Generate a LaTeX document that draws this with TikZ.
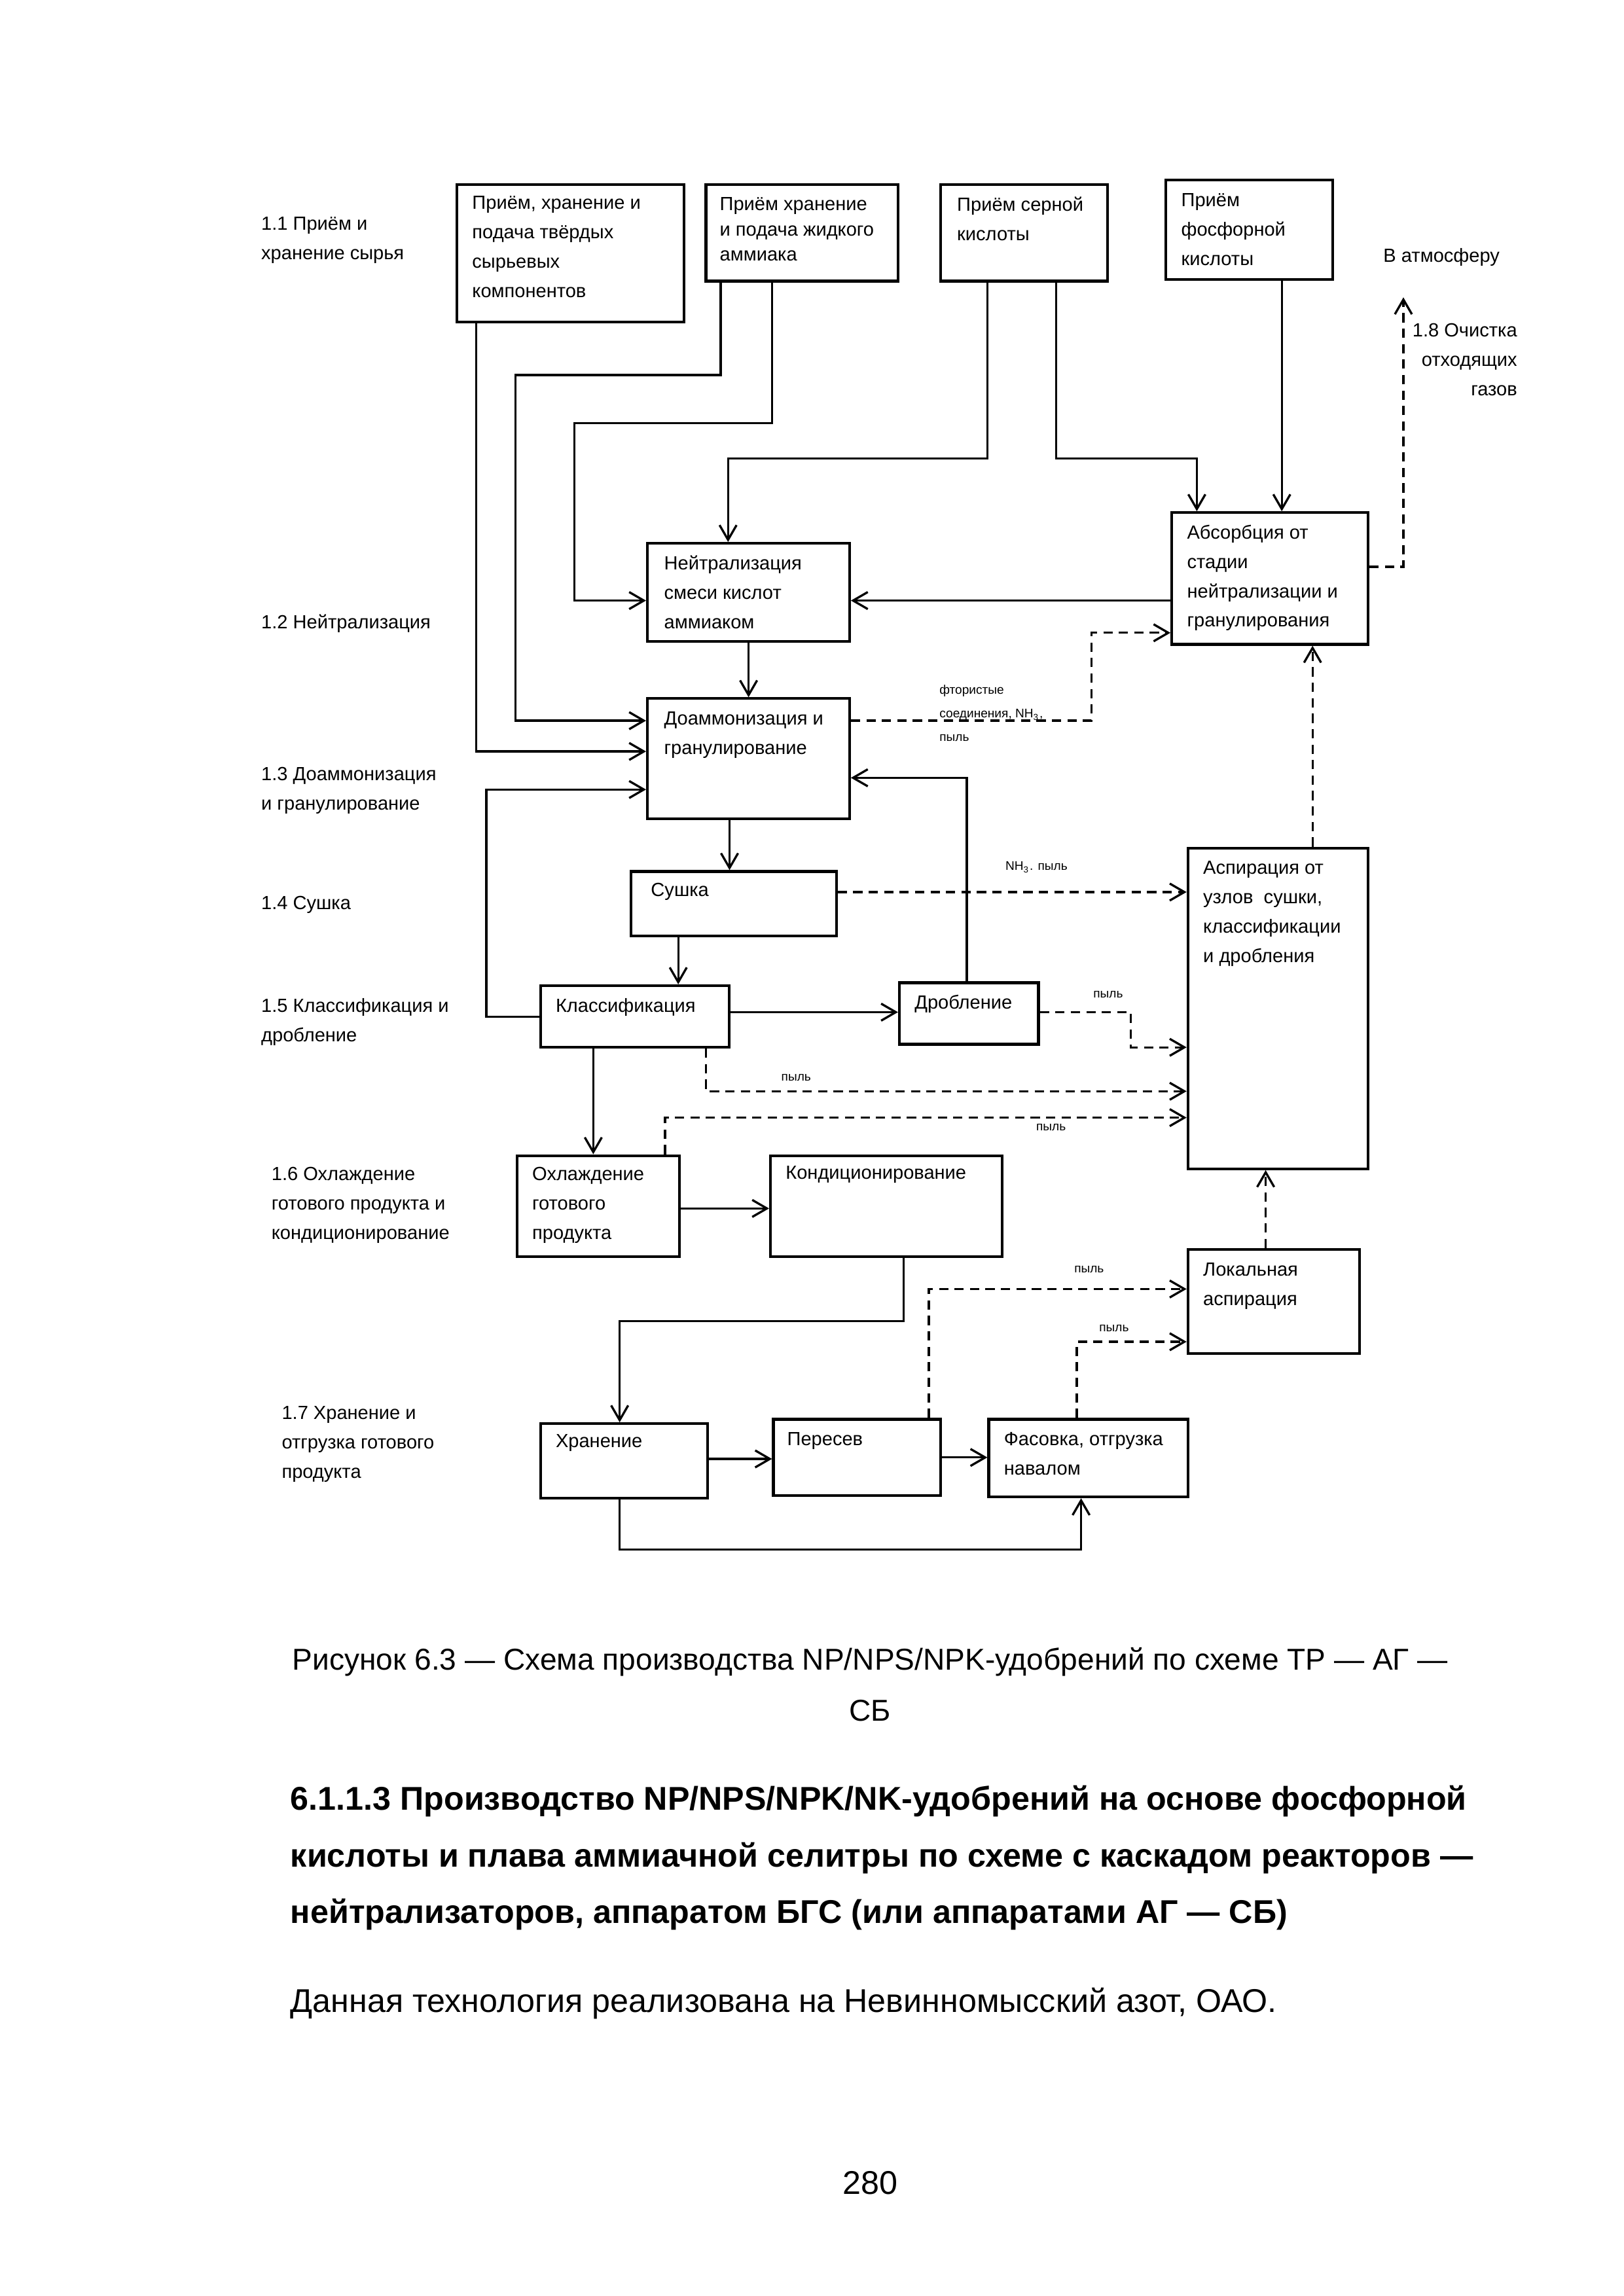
\documentclass[tikz,border=0pt]{standalone}
\usepackage{fontspec}
\setmainfont{Liberation Sans}
\usetikzlibrary{arrows.meta}
\newlength{\pxu}\setlength{\pxu}{0.18943mm}
\newcommand{\dgfont}{\fontsize{7}{10.8}\selectfont}
\newcommand{\smfont}{\fontsize{4.6}{8.7}\selectfont}
\tikzset{
  box/.style 2 args={draw, line width=1pt, anchor=north west, inner sep=0pt,
    minimum width=#1\pxu, minimum height=#2\pxu},
  txt/.style={font=\dgfont, align=left, anchor=base west, inner sep=0pt},
  sml/.style={font=\smfont, align=left, anchor=base west, inner sep=0pt},
  ln/.style={line width=0.8pt},
  arr/.style={ln, -{Straight Barb[length=1.9mm,width=2.2mm]}},
  darr/.style={arr, dash pattern=on 1.2mm off 0.8mm}
}
\begin{document}
\begin{tikzpicture}[x=0.18943mm, y=-0.18943mm]
\useasboundingbox (0,0) rectangle (1108.6,1567.5);
% stage labels (multi-line texts are placed by their last baseline)
\node[txt] (st11) at (178,177) {1.1 Приём и\\хранение сырья};
\node[txt] (st12) at (178,429) {1.2 Нейтрализация};
\node[txt] (st13) at (178,553) {1.3 Доаммонизация\\и гранулирование};
\node[txt] (st14) at (178,621) {1.4 Сушка};
\node[txt] (st15) at (178,711) {1.5 Классификация и\\дробление};
\node[txt] (st16) at (185,846) {1.6 Охлаждение\\готового продукта и\\кондиционирование};
\node[txt] (st17) at (192,1009) {1.7 Хранение и\\отгрузка готового\\продукта};
\node[txt] (atmtxt) at (944,179) {В атмосферу};
\node[txt, align=right, anchor=base east] (st18) at (1036,270) {1.8 Очистка\\отходящих\\газов};
% boxes
\node[box={155}{94}] (tverd) at (311,125) {};
\node[txt] at (322,203) {Приём, хранение и\\подача твёрдых\\сырьевых\\компонентов};
\node[box={131}{66}] (amm) at (481,125) {};
\node[txt, font=\fontsize{7}{9.2}\selectfont] at (491,178) {Приём хранение\\и подача жидкого\\аммиака};
\node[box={114}{66}] (sern) at (641,125) {};
\node[txt] at (653,164) {Приём серной\\кислоты};
\node[box={114}{68}] (fosf) at (795,122) {};
\node[txt] at (806,181) {Приём\\фосфорной\\кислоты};
\node[box={134}{90}] (absorb) at (799,349) {};
\node[txt] at (810,428) {Абсорбция от\\стадии\\нейтрализации и\\гранулирования};
\node[box={138}{67}] (neutr) at (441,370) {};
\node[txt] at (453,429) {Нейтрализация\\смеси кислот\\аммиаком};
\node[box={138}{82}] (doamm) at (441,476) {};
\node[txt] at (453,515) {Доаммонизация и\\гранулирование};
\node[box={140}{44}] (sushka) at (430,594) {};
\node[txt] at (444,612) {Сушка};
\node[box={129}{42}] (klass) at (368,672) {};
\node[txt] at (379,691) {Классификация};
\node[box={95}{42}] (drob) at (613,670) {};
\node[txt] at (624,689) {Дробление};
\node[box={123}{219}] (aspir) at (810,578) {};
\node[txt] at (821,657) {Аспирация от\\узлов\ \ сушки,\\классификации\\и дробления};
\node[box={111}{69}] (ohl) at (352,788) {};
\node[txt] at (363,846) {Охлаждение\\готового\\продукта};
\node[box={158}{69}] (kond) at (525,788) {};
\node[txt] at (536,805) {Кондиционирование};
\node[box={117}{71}] (locasp) at (810,852) {};
\node[txt] at (821,891) {Локальная\\аспирация};
\node[box={114}{51}] (hran) at (368,971) {};
\node[txt] at (379,988) {Хранение};
\node[box={114}{52}] (peres) at (527,968) {};
\node[txt] at (537,987) {Пересев};
\node[box={136}{53}] (fasov) at (674,968) {};
\node[txt] at (685,1007) {Фасовка, отгрузка\\навалом};
\coordinate (atm) at (958,203);
% flow labels
\node[sml] (lbl1) at (641,506) {фтористые\\соединения, NH\textsubscript{3},\\пыль};
\node[sml] (lbl2) at (686,594) {NH\textsubscript{3}. пыль};
\node[sml] (lbl3) at (746,681) {пыль};
\node[sml] (lbl4) at (533,738) {пыль};
\node[sml] (lbl5) at (707,772) {пыль};
\node[sml] (lbl6) at (733,869) {пыль};
\node[sml] (lbl7) at (750,909) {пыль};
% material flows
\draw[arr] (tverd.south -| 325,0) |- (doamm.west |- 0,513);
\draw[arr] (amm.south -| 492,0) |- (352,256) |- (doamm.west |- 0,492);
\draw[arr] (amm.south -| 527,0) |- (392,289) |- (neutr.west |- 0,410);
\draw[arr] (sern.south -| 674,0) |- (497,313) -- (neutr.north -| 497,0);
\draw[arr] (sern.south -| 721,0) |- (817,313) -- (absorb.north -| 817,0);
\draw[arr] (fosf.south -| 875,0) -- (absorb.north -| 875,0);
\draw[arr] (absorb.west |- 0,410) -- (neutr.east |- 0,410);
\draw[arr] (neutr.south -| 511,0) -- (doamm.north -| 511,0);
\draw[arr] (doamm.south -| 498,0) -- (sushka.north -| 498,0);
\draw[arr] (sushka.south -| 463,0) -- (klass.north -| 463,0);
\draw[arr] (klass.west |- 0,694) -| (332,539) -- (doamm.west |- 0,539);
\draw[arr] (klass.east |- 0,691) -- (drob.west |- 0,691);
\draw[arr] (drob.north -| 660,0) |- (doamm.east |- 0,531);
\draw[arr] (klass.south -| 405,0) -- (ohl.north -| 405,0);
\draw[arr] (ohl.east |- 0,825) -- (kond.west |- 0,825);
\draw[arr] (kond.south -| 617,0) |- (423,902) -- (hran.north -| 423,0);
\draw[arr] (hran.east |- 0,996) -- (peres.west |- 0,996);
\draw[arr] (peres.east |- 0,995) -- (fasov.west |- 0,995);
\draw[arr] (hran.south -| 423,0) |- (738,1058) -- (fasov.south -| 738,0);
% gas and dust flows
\draw[darr] (doamm.east |- 0,492) -| (745,432) -- (absorb.west |- 0,432);
\draw[darr] (aspir.north -| 896,0) -- (absorb.south -| 896,0);
\draw[darr] (absorb.east |- 0,387) -| (atm);
\draw[darr] (sushka.east |- 0,609) -- (aspir.west |- 0,609);
\draw[darr] (drob.east |- 0,691) -| (772,715) -- (aspir.west |- 0,715);
\draw[darr] (klass.south -| 482,0) |- (aspir.west |- 0,745);
\draw[darr] (ohl.north -| 454,0) |- (aspir.west |- 0,763);
\draw[darr] (locasp.north -| 864,0) -- (aspir.south -| 864,0);
\draw[darr] (peres.north -| 634,0) |- (locasp.west |- 0,880);
\draw[darr] (fasov.north -| 735,0) |- (locasp.west |- 0,916);
% page text
\node[align=center, anchor=base, inner sep=0pt, font=\fontsize{11.1}{18.9}\selectfont] (caption) at (594,1175)
  {Рисунок 6.3 — Схема производства NP/NPS/NPK-удобрений по схеме ТР — АГ —\\СБ};
\node[align=left, anchor=base west, inner sep=0pt, font=\fontsize{12.1}{20.8}\selectfont\bfseries] (heading) at (198,1313)
  {6.1.1.3 Производство NP/NPS/NPK/NK-удобрений на основе фосфорной\\кислоты и плава аммиачной селитры по схеме с каскадом реакторов —\\нейтрализаторов, аппаратом БГС (или аппаратами АГ — СБ)};
\node[anchor=base west, inner sep=0pt, font=\fontsize{12.1}{14}\selectfont] (para) at (198,1374)
  {Данная технология реализована на Невинномысский азот, ОАО.};
\node[anchor=base, inner sep=0pt, font=\fontsize{12.1}{14}\selectfont] (pagenum) at (594,1498) {280};
\end{tikzpicture}
\end{document}
